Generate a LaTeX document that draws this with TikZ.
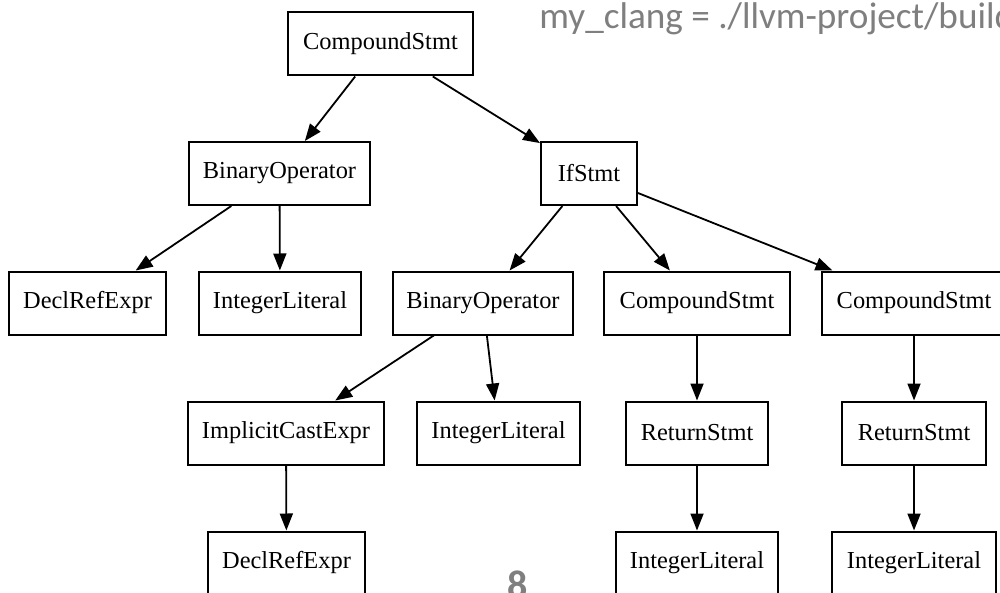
\documentclass[tikz,border=0pt]{standalone}
\usepackage{fontspec}
\setmainfont{Liberation Serif}
\newfontfamily\calib{Carlito}
\usetikzlibrary{arrows.meta}
\definecolor{slidegray}{HTML}{7F7F7F}
\tikzset{
  box/.style={draw, line width=1pt, rectangle, minimum height=31.5pt, inner sep=0pt, font=\fontsize{12.2}{14}\selectfont},
  edge/.style={line width=0.9pt, -{Triangle[length=8.5pt,width=6.5pt]}},
}
\begin{document}
\begin{tikzpicture}[x=0.5pt,y=-0.5pt]
\clip (0,0) rectangle (1000,593);
\fill[white] (0,0) rectangle (1000,593);
% nodes
\node[box, minimum width=92.5pt] (c1) at (380.5,44) {CompoundStmt};
\node[box, minimum width=90.5pt] (b1) at (279.5,173.5) {BinaryOperator};
\node[box, minimum width=48pt] (if) at (589,173.5) {IfStmt};
\node[box, minimum width=78.5pt] (d1) at (87.5,303) {DeclRefExpr};
\node[box, minimum width=81pt] (i1) at (280,303) {IntegerLiteral};
\node[box, minimum width=90pt] (b2) at (483,303) {BinaryOperator};
\node[box, minimum width=93pt] (c2) at (697,303) {CompoundStmt};
\node[box, minimum width=92.5pt] (c3) at (914,303) {CompoundStmt};
\node[box, minimum width=98pt] (ic) at (286,433) {ImplicitCastExpr};
\node[box, minimum width=81.5pt] (i2) at (498.5,433) {IntegerLiteral};
\node[box, minimum width=71pt] (r1) at (697,433) {ReturnStmt};
\node[box, minimum width=72pt] (r2) at (914,433) {ReturnStmt};
\node[box, minimum width=78.5pt] (d2) at (286.5,563) {DeclRefExpr};
\node[box, minimum width=81pt] (i3) at (697,563) {IntegerLiteral};
\node[box, minimum width=82pt] (i4) at (914,563) {IntegerLiteral};
% edges
\draw[edge] (c1) -- (b1);
\draw[edge] (c1) -- (if);
\draw[edge] (b1) -- (d1);
\draw[edge] (b1) -- (i1);
\draw[edge] (if) -- (b2);
\draw[edge] (if) -- (c2);
\draw[edge] (if) -- (c3);
\draw[edge] (b2) -- (ic);
\draw[edge] (b2) -- (i2);
\draw[edge] (c2) -- (r1);
\draw[edge] (c3) -- (r2);
\draw[edge] (ic) -- (d2);
\draw[edge] (r1) -- (i3);
\draw[edge] (r2) -- (i4);
% slide texts
\node[anchor=base west, inner sep=0pt, text=slidegray, font=\calib\fontsize{18.6}{20}\selectfont] (cmd) at (539,29) {my\_clang = ./llvm-project/build};
\node[anchor=base, inner sep=0pt, text=slidegray, font=\calib\bfseries\fontsize{20}{22}\selectfont] (pg) at (517.5,598) {8};
\end{tikzpicture}
\end{document}
